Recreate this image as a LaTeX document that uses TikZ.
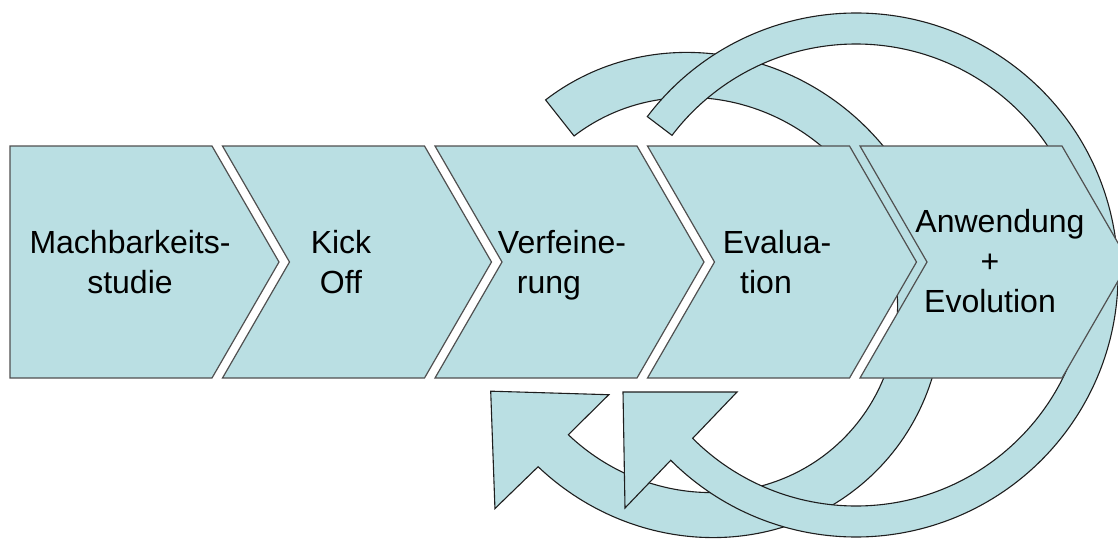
\documentclass[tikz,border=0pt]{standalone}
\usepackage{fontspec}
\setmainfont{Liberation Sans}
\usetikzlibrary{calc}
\definecolor{stepfill}{RGB}{186,223,227}
\definecolor{stepline}{RGB}{80,80,80}
\definecolor{arrowline}{RGB}{30,30,30}
\begin{document}
\begin{tikzpicture}[x=1pt,y=-1pt,
  chevron/.style={fill=stepfill,draw=stepline,line width=1.2pt,line join=miter},
  cyclearrow/.style={fill=stepfill,draw=arrowline,line width=1.1pt,line join=miter},
  steptext/.style={align=center,font=\fontsize{32}{40}\selectfont,inner sep=0pt}]
\useasboundingbox (0,0) rectangle (1118,539);
\clip (0,0) rectangle (1118,539);

% inner feedback arrow: tilted elliptical band with its head at lower left
\begin{scope}[shift={(700,295)},rotate=-45]
  \draw[cyclearrow] (187:249 and 236)
      arc[start angle=187,end angle=448.4,x radius=249,y radius=236]
    -- (6,296) -- (-80,216) -- (6,135)
    -- (448.4:203 and 192)
      arc[start angle=448.4,end angle=187,x radius=203,y radius=192] -- cycle;
\end{scope}

% outer feedback arrow: circular band drawn over the inner one
\coordinate (c2) at (856,275);
\draw[cyclearrow] ($(c2)+(217.2:262)$)
    arc[start angle=217.2,end angle=495,radius=262]
  -- (625,508) -- (623,392) -- (737,392)
  -- ($(c2)+(495:231)$)
    arc[start angle=495,end angle=217.2,radius=231] -- cycle;

% process chevrons
\draw[chevron] (10,146) -- (212,146) -- (279,262) -- (212,378) -- (10,378) -- cycle;
\foreach \x in {222.5,435,647.5,860}{
  \draw[chevron] (\x,146) -- (\x+202,146) -- (\x+269,262) -- (\x+202,378)
    -- (\x,378) -- (\x+67,262) -- cycle;
}

% phase labels
\node[steptext] (t1) at (130,265) {\strut Machbarkeits-\\\strut studie};
\node[steptext] (t2) at (341,265) {\strut Kick\\\strut Off};
\node[steptext] (t3) at (556,265) {\strut\hspace*{12pt}Verfeine-\\\strut rung\hspace*{14pt}};
\node[steptext] (t4) at (772,265) {\strut\hspace*{10pt}Evalua-\\\strut tion\hspace*{12pt}};
\node[steptext] (t5) at (990,264) {\strut\hspace*{20pt}Anwendung\\\strut +\hspace*{18pt}\\\strut Evolution};
\end{tikzpicture}
\end{document}
